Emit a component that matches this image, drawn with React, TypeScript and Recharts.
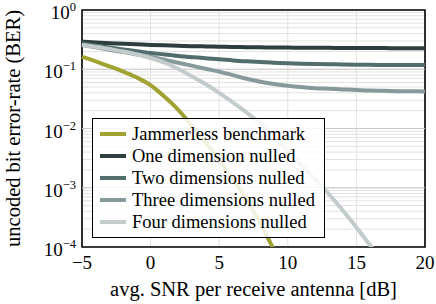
import React from "react";
import {
  LineChart,
  Line,
  XAxis,
  YAxis,
  CartesianGrid,
  Legend,
  ReferenceLine,
  ReferenceArea,
} from "recharts";

const font = "Liberation Serif";

// avg. SNR per receive antenna [dB]
const snr = [-5, -4, -3, -2, -1, 0, 1, 2, 3, 4, 5, 6, 7, 8, 9, 10, 11, 12, 13, 14, 15, 16, 17, 18, 19, 20];

// uncoded BER
const jammerless = [
  0.162, 0.136, 0.112, 0.0912, 0.0724, 0.0537, 0.0347, 0.0209, 0.0112, 0.00589,
  0.00295, 0.00138, 0.00063, 0.00025, 0.000089, 0.0000316,
];
const oneNulled = [
  0.292, 0.282, 0.275, 0.269, 0.263, 0.257, 0.253, 0.249, 0.245, 0.243, 0.24, 0.238, 0.236,
  0.234, 0.233, 0.232, 0.231, 0.23, 0.2295, 0.229, 0.2285, 0.228, 0.2275, 0.227, 0.2265, 0.226,
];
const twoNulled = [
  0.275, 0.251, 0.232, 0.216, 0.202, 0.188, 0.178, 0.168, 0.16, 0.153, 0.148, 0.141, 0.136,
  0.132, 0.129, 0.126, 0.124, 0.123, 0.122, 0.12, 0.119, 0.1186, 0.118, 0.1175, 0.1175, 0.1175,
];
const threeNulled = [
  0.257, 0.234, 0.214, 0.195, 0.178, 0.162, 0.145, 0.129, 0.115, 0.102, 0.0912, 0.0794, 0.0692,
  0.0617, 0.0562, 0.0525, 0.0501, 0.0479, 0.0468, 0.0457, 0.0447, 0.0437, 0.0432, 0.0427,
  0.0425, 0.0422,
];
const fourNulled = [
  0.257, 0.24, 0.219, 0.2, 0.178, 0.155, 0.129, 0.102, 0.0759, 0.0562, 0.0398, 0.0275, 0.0186,
  0.012, 0.00724, 0.00417, 0.0024, 0.00138, 0.000776, 0.000417, 0.000214, 0.000107, 0.00005,
];

const names = [
  "Jammerless benchmark",
  "One dimension nulled",
  "Two dimensions nulled",
  "Three dimensions nulled",
  "Four dimensions nulled",
];
const colors = ["#a0a232", "#2e3d3d", "#526d6d", "#879a9b", "#c3cccd"];

const xTicks = [-5, 0, 5, 10, 15, 20];
const decades = [0.0001, 0.001, 0.01, 0.1, 1];
const minorSteps = [1, 2, 3, 4, 5, 6, 7, 8, 9];
const yTicks = decades
  .slice(0, 4)
  .flatMap((d) => minorSteps.map((m) => d * m))
  .concat([1]);

const data = snr.map((s, i) => ({
  snr: s,
  jam: jammerless[i] ?? null,
  one: oneNulled[i] ?? null,
  two: twoNulled[i] ?? null,
  three: threeNulled[i] ?? null,
  four: fourNulled[i] ?? null,
}));

const minus = (n: number) => (n < 0 ? "\u2212" + Math.abs(n) : String(n));

const YTick = (props: any) => {
  const { x, y, payload } = props;
  const lg = Math.log10(payload.value);
  const e = Math.round(lg);
  if (Math.abs(lg - e) > 1e-6) return <g />;
  return (
    <text x={x + 2} y={y + 9} textAnchor="end" style={{ fontFamily: font }} fill="#000">
      <tspan fontSize={19}>10</tspan>
      <tspan fontSize={12.5} dy={-8}>
        {minus(e)}
      </tspan>
    </text>
  );
};

const XTick = (props: any) => {
  const { x, y, payload } = props;
  return (
    <text
      x={x}
      y={y + 14}
      textAnchor="middle"
      style={{ fontFamily: font }}
      fontSize={19}
      fill="#000"
    >
      {minus(payload.value)}
    </text>
  );
};

const LegendBox = (props: any) => {
  const items = [...(props.payload || [])].sort(
    (a: any, b: any) => names.indexOf(a.value) - names.indexOf(b.value)
  );
  return (
    <div
      style={{
        background: "rgba(255,255,255,0.85)",
        border: "1px solid #000",
        boxSizing: "border-box",
        width: 233,
        height: 120,
        padding: "4px 0 4px 7px",
        fontFamily: font,
        fontSize: 18.5,
        color: "#000",
      }}
    >
      {items.map((p: any) => (
        <div key={p.value} style={{ display: "flex", alignItems: "center", height: 22 }}>
          <span
            style={{ display: "inline-block", width: 26, height: 4, background: p.color, marginRight: 6 }}
          />
          <span style={{ whiteSpace: "nowrap", fontFamily: font }}>{p.value}</span>
        </div>
      ))}
    </div>
  );
};

const keys = ["jam", "one", "two", "three", "four"];

export default function App() {
  return (
    <div style={{ position: "absolute", left: 0, top: 0, background: "#fff", fontFamily: font }}>
      <LineChart
        width={436}
        height={304}
        data={data}
        margin={{ top: 10, right: 11, left: 0, bottom: 0 }}
      >
        <CartesianGrid stroke="#e2e2e2" strokeWidth={1} />
        {decades.slice(1, 4).map((d) => (
          <ReferenceLine key={d} y={d} stroke="#c9c9c9" strokeWidth={1} />
        ))}
        <XAxis
          dataKey="snr"
          type="number"
          domain={[-5, 20]}
          ticks={xTicks}
          interval={0}
          tickLine={false}
          axisLine={false}
          height={57}
          tick={<XTick />}
          label={(p: any) => {
            const vb = p.viewBox;
            return (
              <text
                x={vb.x + vb.width / 2}
                y={vb.y + 49}
                textAnchor="middle"
                style={{ fontFamily: font }}
                fontSize={20.5}
                fill="#000"
              >
                avg. SNR per receive antenna [dB]
              </text>
            );
          }}
        />
        <YAxis
          type="number"
          scale="log"
          domain={[0.0001, 1]}
          allowDataOverflow
          ticks={yTicks}
          interval={0}
          width={82}
          tickLine={false}
          axisLine={false}
          tick={<YTick />}
          label={(p: any) => {
            const vb = p.viewBox;
            const cx = 20;
            const cy = vb.y + vb.height / 2;
            return (
              <text
                x={cx}
                y={cy}
                transform={`rotate(-90 ${cx} ${cy})`}
                textAnchor="middle"
                style={{ fontFamily: font }}
                fontSize={20.5}
                fill="#000"
              >
                uncoded bit error-rate (BER)
              </text>
            );
          }}
        />
        {keys.map((k, i) => (
          <Line
            key={k}
            dataKey={k}
            name={names[i]}
            type="monotone"
            stroke={colors[i]}
            strokeWidth={4}
            dot={false}
            activeDot={false}
            isAnimationActive={false}
          />
        ))}
        <ReferenceArea
          x1={-5}
          x2={20}
          y1={0.0001}
          y2={1}
          fill="none"
          stroke="#000"
          strokeWidth={1.6}
        />
        <Legend
          layout="vertical"
          align="center"
          verticalAlign="middle"
          content={<LegendBox />}
          wrapperStyle={{ left: 92, top: 118, width: 233, height: 120 }}
        />
      </LineChart>
    </div>
  );
}
